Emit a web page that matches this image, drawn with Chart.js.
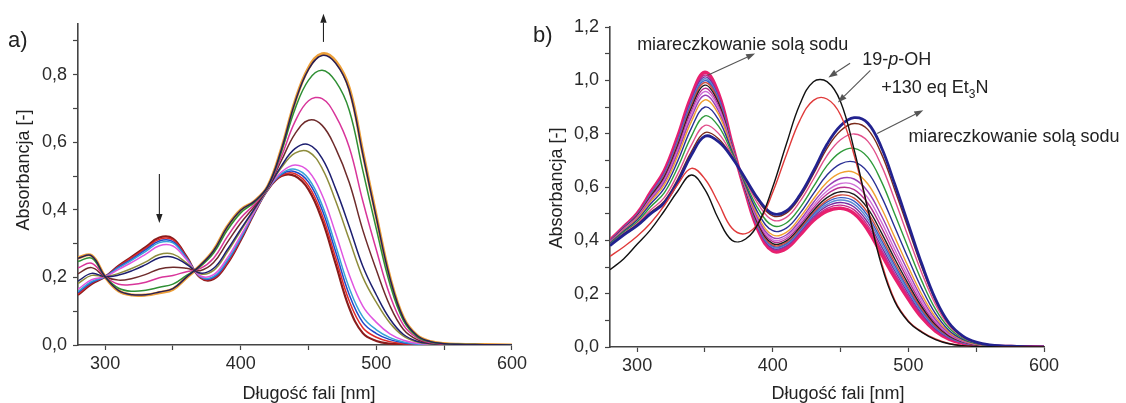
<!DOCTYPE html>
<html><head><meta charset="utf-8">
<script src="https://cdn.jsdelivr.net/npm/chart.js@4.4.0/dist/chart.umd.min.js"></script>
<style>
html,body{margin:0;padding:0;background:#fff;}
#wrap{position:relative;width:1126px;height:403px;overflow:hidden;background:#fff;}
#ca{position:absolute;left:0;top:0;}
#cb{position:absolute;left:530px;top:0;}
</style></head><body>
<div id="wrap">
<canvas id="ca" width="530" height="403"></canvas>
<canvas id="cb" width="596" height="403"></canvas>
</div>
<script>
const FF = "'Liberation Sans', Arial, Helvetica, sans-serif";

// wavelengths [nm] shared by both panels
const wavelengths = [280,290,300,310,320,330,340,350,360,370,380,390,400,410,420,430,440,450,460,470,480,490,500,510,520,530,540,550,560,580,600];

// ---- panel a) series (absorbance) ----
const a_maroon  = [0.148,0.180,0.202,0.235,0.262,0.290,0.318,0.315,0.262,0.200,0.195,0.240,0.310,0.390,0.460,0.500,0.500,0.460,0.370,0.240,0.110,0.035,0.012,0.004,0.002,0.001,0,0,0,0,0];
const a_red     = [0.151,0.183,0.202,0.233,0.259,0.286,0.313,0.311,0.260,0.201,0.198,0.243,0.313,0.391,0.460,0.502,0.507,0.471,0.385,0.258,0.130,0.051,0.023,0.010,0.004,0.002,0,0,0,0,0];
const a_blue    = [0.155,0.185,0.202,0.231,0.255,0.282,0.308,0.306,0.258,0.202,0.200,0.247,0.315,0.392,0.461,0.505,0.513,0.482,0.400,0.276,0.149,0.067,0.034,0.016,0.007,0.003,0.001,0,0,0,0];
const a_cyan    = [0.158,0.188,0.202,0.228,0.252,0.277,0.303,0.302,0.256,0.203,0.203,0.250,0.318,0.393,0.461,0.507,0.520,0.492,0.414,0.294,0.169,0.083,0.045,0.022,0.009,0.003,0.001,0,0,0,0];
const a_violet  = [0.165,0.193,0.202,0.224,0.245,0.269,0.294,0.293,0.253,0.205,0.208,0.257,0.324,0.395,0.462,0.512,0.533,0.514,0.444,0.330,0.208,0.115,0.067,0.033,0.014,0.005,0.002,0.001,0,0,0];
const a_olive   = [0.182,0.206,0.202,0.212,0.227,0.246,0.268,0.269,0.243,0.211,0.221,0.274,0.338,0.401,0.463,0.525,0.568,0.572,0.523,0.426,0.312,0.201,0.126,0.065,0.026,0.009,0.003,0.001,0.001,0,0];
const a_navy    = [0.189,0.212,0.202,0.207,0.220,0.238,0.258,0.260,0.239,0.213,0.227,0.281,0.343,0.403,0.464,0.530,0.581,0.593,0.552,0.462,0.351,0.233,0.148,0.077,0.031,0.011,0.004,0.002,0.001,0,0];
const a_brown   = [0.211,0.229,0.202,0.192,0.197,0.209,0.225,0.230,0.227,0.220,0.244,0.303,0.361,0.410,0.466,0.546,0.625,0.665,0.650,0.582,0.481,0.340,0.222,0.116,0.046,0.016,0.006,0.002,0.001,0.001,0];
const a_magenta = [0.228,0.242,0.202,0.180,0.179,0.186,0.199,0.206,0.217,0.226,0.257,0.320,0.376,0.416,0.467,0.558,0.661,0.723,0.729,0.678,0.585,0.426,0.281,0.147,0.059,0.021,0.007,0.003,0.001,0.001,0];
const a_green   = [0.247,0.257,0.202,0.168,0.159,0.162,0.171,0.180,0.206,0.232,0.272,0.339,0.391,0.422,0.469,0.572,0.698,0.784,0.813,0.780,0.695,0.517,0.343,0.180,0.072,0.025,0.009,0.004,0.002,0.001,0];
const a_dark    = [0.257,0.264,0.202,0.161,0.149,0.149,0.157,0.167,0.201,0.235,0.279,0.349,0.399,0.425,0.470,0.579,0.718,0.816,0.857,0.834,0.754,0.565,0.376,0.198,0.079,0.028,0.010,0.004,0.002,0.001,0];
const a_orange  = [0.258,0.265,0.202,0.160,0.148,0.148,0.155,0.165,0.200,0.235,0.280,0.350,0.400,0.425,0.470,0.580,0.720,0.820,0.862,0.840,0.760,0.570,0.380,0.200,0.080,0.028,0.010,0.004,0.002,0.001,0];

// ---- panel b) series (absorbance) ----
const b_pOH     = [0.290,0.330,0.385,0.440,0.510,0.585,0.645,0.590,0.480,0.400,0.405,0.470,0.600,0.760,0.910,0.995,0.995,0.920,0.740,0.520,0.310,0.170,0.095,0.055,0.028,0.012,0.005,0.002,0.001,0,0];
const b_Et3N    = [0.340,0.375,0.415,0.465,0.530,0.610,0.670,0.630,0.540,0.445,0.425,0.470,0.580,0.720,0.850,0.925,0.930,0.870,0.720,0.520,0.320,0.175,0.098,0.057,0.030,0.013,0.005,0.002,0.001,0,0];
const b_t00 = [0.380,0.420,0.455,0.500,0.540,0.620,0.720,0.790,0.770,0.710,0.630,0.550,0.500,0.510,0.570,0.660,0.760,0.830,0.860,0.840,0.750,0.610,0.460,0.310,0.180,0.090,0.042,0.018,0.008,0.002,0];
const b_t01 = [0.381,0.422,0.458,0.505,0.547,0.630,0.733,0.804,0.781,0.713,0.627,0.543,0.492,0.502,0.561,0.649,0.745,0.811,0.838,0.816,0.726,0.589,0.443,0.298,0.173,0.086,0.040,0.017,0.008,0.002,0];
const b_t02 = [0.383,0.425,0.463,0.514,0.560,0.649,0.757,0.831,0.801,0.719,0.622,0.530,0.476,0.486,0.545,0.629,0.718,0.777,0.799,0.772,0.682,0.551,0.412,0.276,0.160,0.080,0.037,0.016,0.007,0.002,0];
const b_t03 = [0.386,0.430,0.469,0.526,0.578,0.674,0.790,0.867,0.828,0.726,0.614,0.512,0.455,0.465,0.522,0.601,0.680,0.731,0.745,0.712,0.622,0.498,0.370,0.246,0.142,0.071,0.033,0.014,0.006,0.002,0];
const b_t04 = [0.389,0.434,0.476,0.537,0.595,0.698,0.821,0.900,0.853,0.733,0.607,0.495,0.436,0.446,0.501,0.575,0.645,0.687,0.694,0.656,0.566,0.449,0.331,0.218,0.125,0.062,0.029,0.013,0.006,0.002,0];
const b_t05 = [0.391,0.437,0.481,0.546,0.608,0.717,0.845,0.927,0.873,0.739,0.602,0.482,0.420,0.430,0.485,0.555,0.618,0.653,0.655,0.612,0.522,0.411,0.300,0.196,0.112,0.056,0.026,0.011,0.005,0.001,0];
const b_t06 = [0.393,0.439,0.484,0.551,0.617,0.729,0.861,0.944,0.885,0.742,0.598,0.473,0.410,0.420,0.474,0.542,0.600,0.632,0.630,0.584,0.494,0.386,0.281,0.182,0.103,0.052,0.024,0.010,0.005,0.001,0];
const b_t07 = [0.394,0.441,0.487,0.556,0.624,0.739,0.874,0.958,0.896,0.745,0.595,0.466,0.402,0.412,0.465,0.531,0.585,0.613,0.608,0.560,0.470,0.365,0.264,0.170,0.096,0.048,0.022,0.010,0.005,0.001,0];
const b_t08 = [0.395,0.443,0.489,0.560,0.630,0.748,0.885,0.970,0.905,0.748,0.593,0.460,0.395,0.405,0.458,0.521,0.573,0.598,0.590,0.540,0.450,0.348,0.250,0.160,0.090,0.045,0.021,0.009,0.004,0.001,0];
const b_t09 = [0.396,0.444,0.491,0.564,0.636,0.756,0.896,0.982,0.914,0.750,0.590,0.454,0.388,0.398,0.450,0.512,0.560,0.582,0.572,0.520,0.430,0.330,0.236,0.150,0.084,0.042,0.020,0.008,0.004,0.001,0];
const b_t10 = [0.397,0.445,0.493,0.567,0.641,0.763,0.905,0.992,0.921,0.752,0.588,0.449,0.382,0.392,0.444,0.505,0.550,0.570,0.558,0.504,0.414,0.316,0.225,0.142,0.079,0.040,0.019,0.008,0.004,0.001,0];
const b_t11 = [0.397,0.446,0.494,0.570,0.644,0.768,0.911,0.999,0.927,0.754,0.587,0.446,0.378,0.388,0.440,0.499,0.543,0.560,0.547,0.492,0.402,0.306,0.216,0.136,0.076,0.038,0.018,0.008,0.004,0.001,0];
const b_t12 = [0.398,0.447,0.496,0.572,0.648,0.773,0.918,1.006,0.932,0.755,0.585,0.442,0.374,0.384,0.435,0.494,0.535,0.551,0.536,0.480,0.390,0.295,0.208,0.130,0.072,0.036,0.017,0.007,0.004,0.001,0];
const b_t13 = [0.399,0.448,0.497,0.574,0.652,0.778,0.925,1.013,0.937,0.757,0.584,0.438,0.370,0.380,0.431,0.488,0.528,0.542,0.525,0.468,0.378,0.285,0.200,0.124,0.068,0.034,0.016,0.007,0.003,0.001,0];
const b_t14 = [0.399,0.449,0.498,0.577,0.655,0.783,0.931,1.020,0.943,0.758,0.582,0.435,0.366,0.376,0.426,0.482,0.520,0.532,0.514,0.456,0.366,0.274,0.191,0.118,0.065,0.032,0.015,0.006,0.003,0.001,0];
const b_t15 = [0.400,0.450,0.500,0.580,0.660,0.790,0.940,1.030,0.950,0.760,0.580,0.430,0.360,0.370,0.420,0.475,0.510,0.520,0.500,0.440,0.350,0.260,0.180,0.110,0.060,0.030,0.014,0.006,0.003,0.001,0];

// tick settings
const xTicks = [300,400,500,600];
const yTicksA = [0.0,0.2,0.4,0.6,0.8];
const yTicksB = [0.0,0.2,0.4,0.6,0.8,1.0,1.2];

function pts(arr){ return wavelengths.map((w,i)=>({x:w,y:arr[i]})); }
function ds(arr, color, width){ return {data:pts(arr), borderColor:color, borderWidth:width, pointRadius:0, fill:false, tension:0.4}; }

const fmtY = v => { const k=Math.round(v*10); return (k%2===0) ? (k/10).toFixed(1).replace('.',',') : ''; };
const fmtX = v => (xTicks.indexOf(v)>=0 ? String(v) : '');

function scalesFor(ymax, yWidth, xHeight){
  return {
    x:{type:'linear', min:280, max:600,
       ticks:{stepSize:50, includeBounds:false, autoSkip:false, maxRotation:0, callback:fmtX, font:{family:FF,size:18}, color:'#2a2a2a', padding:3},
       grid:{drawOnChartArea:false, drawTicks:true, tickLength:5, tickColor:'#444', tickWidth:1.2},
       border:{display:true, color:'#444', width:1.6},
       afterFit:s=>{s.height=xHeight;}},
    y:{type:'linear', min:0, max:ymax,
       ticks:{stepSize:0.1, includeBounds:false, autoSkip:false, callback:fmtY, font:{family:FF,size:18}, color:'#2a2a2a', padding:6},
       grid:{drawOnChartArea:false, drawTicks:true, tickLength:5, tickColor:'#444', tickWidth:1.2},
       border:{display:true, color:'#444', width:1.6},
       afterFit:s=>{s.width=yWidth;}}
  };
}

function arrow(ctx,x1,y1,x2,y2,color,lw,head,half){
  const ang=Math.atan2(y2-y1,x2-x1);
  const hx=x2-head*Math.cos(ang), hy=y2-head*Math.sin(ang);
  ctx.save(); ctx.strokeStyle=color; ctx.fillStyle=color; ctx.lineWidth=lw;
  ctx.beginPath(); ctx.moveTo(x1,y1); ctx.lineTo(hx,hy); ctx.stroke();
  ctx.beginPath(); ctx.moveTo(x2,y2);
  ctx.lineTo(hx+half*Math.sin(ang), hy-half*Math.cos(ang));
  ctx.lineTo(hx-half*Math.sin(ang), hy+half*Math.cos(ang));
  ctx.closePath(); ctx.fill(); ctx.restore();
}
function dataArrow(chart,p1,p2,color){
  const {x,y}=chart.scales;
  arrow(chart.ctx, x.getPixelForValue(p1[0]), y.getPixelForValue(p1[1]), x.getPixelForValue(p2[0]), y.getPixelForValue(p2[1]), color, 1.1, 9, 3.2);
}

// annotation anchors in data coordinates [nm, absorbance]
const arrowsA = [ [[340,0.506],[340,0.361]], [[461,0.897],[461,0.98]] ];
const arrowsB = [ [[352,1.019],[387,1.101]], [[457,1.064],[441,1.011]], [[472,1.037],[448,0.917]], [[477,0.801],[511,0.888]] ];

const decoA = {id:'decoA', afterDraw(chart){
  const ctx=chart.ctx; ctx.save();
  ctx.fillStyle='#222'; ctx.textAlign='left'; ctx.textBaseline='alphabetic';
  ctx.font=`22px ${FF}`; ctx.fillText('a)', 8, 47);
  ctx.font=`18px ${FF}`; ctx.textAlign='center';
  ctx.fillText('Długość fali [nm]', 309, 399);
  ctx.save(); ctx.translate(29,170); ctx.rotate(-Math.PI/2); ctx.fillText('Absorbancja [-]',0,0); ctx.restore();
  ctx.restore();
  arrowsA.forEach(a=>dataArrow(chart,a[0],a[1],'#222'));
}};

const decoB = {id:'decoB', afterDraw(chart){
  const ctx=chart.ctx; const {x,y}=chart.scales; const OX=530;
  ctx.save();
  ctx.fillStyle='#222'; ctx.textAlign='left'; ctx.textBaseline='alphabetic';
  ctx.font=`22px ${FF}`; ctx.fillText('b)', 533-OX, 42);
  ctx.font=`18px ${FF}`; ctx.textAlign='center';
  ctx.fillText('Długość fali [nm]', 838-OX, 399);
  ctx.save(); ctx.translate(562-OX,188); ctx.rotate(-Math.PI/2); ctx.fillText('Absorbancja [-]',0,0); ctx.restore();
  ctx.textAlign='left';
  ctx.fillText('miareczkowanie solą sodu', x.getPixelForValue(300), y.getPixelForValue(1.112));
  ctx.fillText('miareczkowanie solą sodu', x.getPixelForValue(500), y.getPixelForValue(0.768));
  // 19-p-OH
  let px=x.getPixelForValue(466), py=y.getPixelForValue(1.056);
  ctx.fillText('19-',px,py); px+=ctx.measureText('19-').width;
  ctx.font=`italic 18px ${FF}`; ctx.fillText('p',px,py); px+=ctx.measureText('p').width;
  ctx.font=`18px ${FF}`; ctx.fillText('-OH',px,py);
  // +130 eq Et3N
  px=x.getPixelForValue(480); py=y.getPixelForValue(0.951);
  ctx.fillText('+130 eq Et',px,py); px+=ctx.measureText('+130 eq Et').width;
  ctx.font=`12px ${FF}`; ctx.fillText('3',px,py+5); px+=ctx.measureText('3').width;
  ctx.font=`18px ${FF}`; ctx.fillText('N',px,py);
  ctx.restore();
  arrowsB.forEach(a=>dataArrow(chart,a[0],a[1],'#555'));
}};

// panel a datasets (bottom to top)
const dsA = [
  ds(a_orange,'#eda03a',3.2), ds(a_maroon,'#8a1c1c',2.2), ds(a_red,'#e02a2a',1.5), ds(a_blue,'#2347c8',1.5),
  ds(a_cyan,'#35a2d8',1.5), ds(a_violet,'#e055e0',1.5), ds(a_olive,'#8e8c3c',1.5), ds(a_navy,'#1d1f70',1.5),
  ds(a_brown,'#6e2b2b',1.5), ds(a_magenta,'#d8359a',1.5), ds(a_green,'#2f8f34',1.5), ds(a_dark,'#2a1f55',1.5)
];
dsA.forEach((d,i)=>{d.order=100-i;});

// panel b datasets (bottom to top)
const dsB = [
  ds(b_t15,'#e8206e',3.6), ds(b_t14,'#c42a8c',1.4), ds(b_t13,'#7a2aa0',1.4), ds(b_t12,'#5a8ad0',1.4),
  ds(b_t11,'#3a60c8',1.4), ds(b_t10,'#d05040',1.4), ds(b_t09,'#1e1e1e',1.4), ds(b_t08,'#b82f90',1.4),
  ds(b_t07,'#d070d8',1.4), ds(b_t06,'#9b3fb5',1.4), ds(b_t05,'#f0a030',1.4), ds(b_t04,'#2a2f95',1.4),
  ds(b_t03,'#2f9a3a',1.4), ds(b_t02,'#e2508c',1.4), ds(b_t01,'#7a2a1a',1.4), ds(b_t00,'#22228f',2.8),
  ds(b_Et3N,'#e03a3a',1.4), ds(b_pOH,'#111111',1.4)
];
dsB.forEach((d,i)=>{d.order=100-i;});

const common = {responsive:false, animation:false, devicePixelRatio:1,
  plugins:{legend:{display:false}, tooltip:{enabled:false}}};

new Chart(document.getElementById('ca'), {type:'line', data:{datasets:dsA},
  options:Object.assign({}, common, {layout:{padding:{left:0,top:24,right:16,bottom:0}}, scales:scalesFor(0.95,78,58)}),
  plugins:[decoA]});

new Chart(document.getElementById('cb'), {type:'line', data:{datasets:dsB},
  options:Object.assign({}, common, {layout:{padding:{left:0,top:27,right:82,bottom:0}}, scales:scalesFor(1.2,80,56)}),
  plugins:[decoB]});
</script>
</body></html>
